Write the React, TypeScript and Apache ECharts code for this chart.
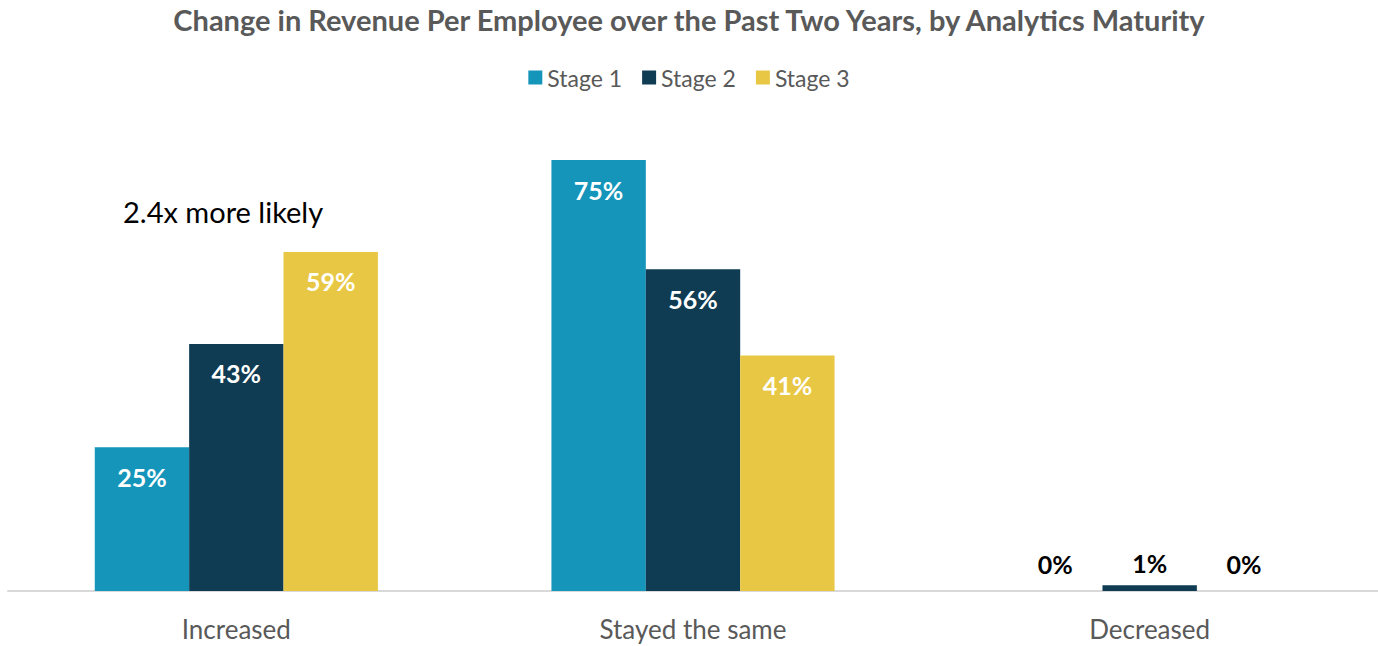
import React, { useEffect, useRef } from "react";
import * as echarts from "echarts";

const categories = ["Increased", "Stayed the same", "Decreased"];
const seriesNames = ["Stage 1", "Stage 2", "Stage 3"];
const stage1 = [25, 75, 0];
const stage2 = [43, 56, 1];
const stage3 = [59, 41, 0];
const colors = ["#1595BA", "#0F3B53", "#E8C744"];
const titleText = "Change in Revenue Per Employee over the Past Two Years, by Analytics Maturity";
const annotation = "2.4x more likely";

const FONT = "Lato, 'Noto Sans', sans-serif";

export default function App() {
  const ref = useRef<HTMLDivElement>(null);
  useEffect(() => {
    if (!ref.current) return;
    const chart = echarts.init(ref.current, null, { renderer: "svg" });
    const all = [stage1, stage2, stage3];
    const series = all.map((vals, si) => ({
      name: seriesNames[si],
      type: "bar",
      barGap: "0%",
      barCategoryGap: "38%",
      itemStyle: { color: colors[si] },
      data: vals.map((v) => {
        const small = v < 5;
        return {
          value: v,
          label: small
            ? { show: true, position: "top", distance: v === 0 ? 15 : 10, color: "#000", fontWeight: "bold", fontSize: 25, fontFamily: FONT }
            : { show: true, position: "insideTop", distance: 17, color: "#fff", fontWeight: "bold", fontSize: 25, fontFamily: FONT },
        };
      }),
      label: { show: true, formatter: "{c}%" },
    }));
    chart.setOption({
      animation: false,
      title: {
        text: titleText,
        left: "center",
        top: 0,
        textStyle: { fontFamily: FONT, fontSize: 29, fontWeight: "bold", color: "#595959" },
      },
      legend: {
        top: 61,
        left: "center",
        itemWidth: 14,
        itemHeight: 14,
        itemGap: 20,
        icon: "rect",
        textStyle: { fontFamily: FONT, fontSize: 23, color: "#595959" },
        data: seriesNames,
      },
      grid: { left: 8, right: 0, top: 160, bottom: 55 },
      xAxis: {
        type: "category",
        data: categories,
        axisLine: { lineStyle: { color: "#d9d9d9", width: 2 } },
        axisTick: { show: false },
        axisLabel: { fontFamily: FONT, fontSize: 26, color: "#595959", margin: 25 },
      },
      yAxis: {
        type: "value",
        min: 0,
        max: 75,
        show: false,
        splitLine: { show: false },
      },
      graphic: [
        {
          type: "text",
          left: 123,
          top: 197,
          style: { text: annotation, fontFamily: FONT, fontSize: 29, fill: "#000" },
        },
      ],
      series,
    });
    return () => chart.dispose();
  }, []);
  return <div ref={ref} style={{ position: "absolute", left: 0, top: 0, width: 1378, height: 646 }} />;
}
